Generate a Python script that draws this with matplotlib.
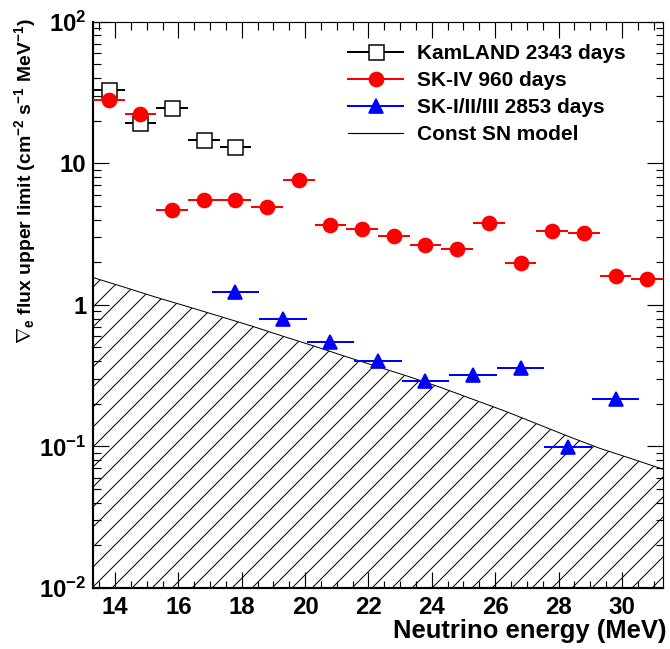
import matplotlib
matplotlib.use("Agg")
import matplotlib.pyplot as plt
from matplotlib.lines import Line2D
from matplotlib.ticker import MultipleLocator, LogLocator, NullFormatter
import numpy as np

plt.rcParams['font.family'] = ['Liberation Sans', 'DejaVu Sans']
plt.rcParams['font.weight'] = 'bold'
plt.rcParams['axes.labelweight'] = 'bold'
plt.rcParams['mathtext.fontset'] = 'custom'
plt.rcParams['mathtext.rm'] = 'Liberation Sans:bold'
plt.rcParams['mathtext.it'] = 'Liberation Sans:bold'
plt.rcParams['mathtext.bf'] = 'Liberation Sans:bold'
plt.rcParams['mathtext.default'] = 'rm'
plt.rcParams['hatch.linewidth'] = 0.6
plt.rcParams['hatch.color'] = 'black'

# KamLAND 2343 days, 1 MeV bins
kam_e = [13.8, 14.8, 15.8, 16.8, 17.8]
kam_lim = [32.8, 19.1, 24.5, 14.7, 13.1]
kam_hw = 0.5

# SK-IV 960 days, 1 MeV bins
sk4_e = [13.8, 14.8, 15.8, 16.8, 17.8, 18.8, 19.8, 20.8, 21.8,
         22.8, 23.8, 24.8, 25.8, 26.8, 27.8, 28.8, 29.8, 30.8]
sk4_lim = [27.9, 22.2, 4.67, 5.54, 5.49, 4.95, 7.6, 3.67, 3.42,
           3.07, 2.64, 2.50, 3.81, 1.99, 3.33, 3.21, 1.60, 1.52]
sk4_hw = 0.5

# SK-I/II/III 2853 days, 1.5 MeV bins
sk123_e = [17.8, 19.3, 20.8, 22.3, 23.8, 25.3, 26.8, 28.3, 29.8]
sk123_lim = [1.24, 0.80, 0.55, 0.40, 0.29, 0.32, 0.36, 0.099, 0.218]
sk123_hw = 0.75

# constant supernova rate model prediction
sn_e = [13.3, 14.3, 15.3, 16.3, 17.3, 18.3, 19.3, 20.3, 21.3, 22.3,
        23.3, 24.3, 25.3, 26.3, 27.3, 28.3, 29.3, 30.3, 31.3]
sn_flux = [1.56, 1.33, 1.13, 0.97, 0.83, 0.71, 0.60, 0.51, 0.43, 0.365,
           0.31, 0.26, 0.215, 0.178, 0.145, 0.118, 0.097, 0.082, 0.069]

ytick_vals = [1e-2, 1e-1, 1, 10, 1e2]
ytick_labels = ['$10^{-2}$', '$10^{-1}$', '1', '10', '$10^{2}$']

W, H, DPI = 670, 649, 120
fig = plt.figure(figsize=(W / DPI, H / DPI), dpi=DPI)
ax = fig.add_axes([93 / W, 1 - 588 / H, (663 - 93) / W, (588 - 21.7) / H])

ax.fill_between(sn_e, 1e-2, sn_flux, facecolor='white', edgecolor='black',
                hatch='//', linewidth=0, zorder=1)
ax.plot(sn_e, sn_flux, color='black', lw=0.6, zorder=1.2)

ax.errorbar(kam_e, kam_lim, xerr=kam_hw, fmt='s', color='black', mfc='white',
            mec='black', mew=0.9, ms=9, elinewidth=1.2, capsize=0, zorder=3)
ax.errorbar(sk4_e, sk4_lim, xerr=sk4_hw, fmt='o', color='red', ms=8.4,
            elinewidth=1.2, capsize=0, zorder=4)
ax.errorbar(sk123_e, sk123_lim, xerr=sk123_hw, fmt='^', color='blue', ms=8,
            elinewidth=1.2, capsize=0, zorder=4)

ax.set_yscale('log')
ax.set_xlim(13.3, 31.3)
ax.set_ylim(1e-2, 1e2)

ax.xaxis.set_major_locator(MultipleLocator(2))
ax.xaxis.set_minor_locator(MultipleLocator(0.5))
ax.set_yticks(ytick_vals, ytick_labels)
ax.yaxis.set_minor_locator(LogLocator(base=10, subs=np.arange(2, 10)))
ax.yaxis.set_minor_formatter(NullFormatter())

ax.tick_params(which='both', direction='in', top=True, right=True,
               width=0.7, labelsize=14.4)
ax.tick_params(which='major', length=9.5)
ax.tick_params(which='minor', length=4.5)
ax.tick_params(axis='x', pad=5)
ax.tick_params(axis='y', pad=4)

for side in ['left', 'bottom']:
    ax.spines[side].set_linewidth(1.3)
for side in ['top', 'right']:
    ax.spines[side].set_linewidth(0.7)

ax.set_xlabel('Neutrino energy (MeV)', fontsize=15.4, fontweight='bold',
              ha='right', va='top')
ax.xaxis.set_label_coords(1.007, -0.055)
ax.set_ylabel(r'$\nabla_{e}$ flux upper limit (cm$^{-2}$ s$^{-1}$ MeV$^{-1}$)',
              fontsize=11.6, fontweight='bold', ha='right', va='bottom')
ax.yaxis.set_label_coords(-0.097, 1.006)

handles = [
    Line2D([], [], color='black', marker='s', mfc='white', mec='black',
           mew=0.9, ms=9, lw=1.2),
    Line2D([], [], color='red', marker='o', ms=8.4, lw=1.2),
    Line2D([], [], color='blue', marker='^', ms=8, lw=1.2),
    Line2D([], [], color='black', lw=0.7),
]
labels = ['KamLAND 2343 days', 'SK-IV 960 days', 'SK-I/II/III 2853 days',
          'Const SN model']
ax.legend(handles, labels, loc='upper left', frameon=False, fontsize=12.5,
          bbox_to_anchor=(348 / W, 1 - 44 / H), bbox_transform=fig.transFigure,
          borderaxespad=0, borderpad=0, handlelength=2.64, handletextpad=0.67,
          labelspacing=0.39, numpoints=1)

fig.savefig('out.png', dpi=DPI)
